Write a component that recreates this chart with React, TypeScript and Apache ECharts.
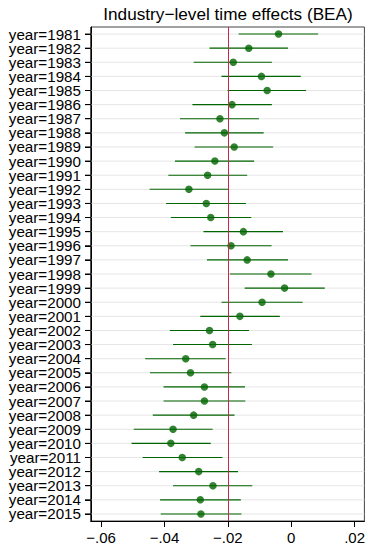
import React, { useEffect, useRef } from "react";
import * as echarts from "echarts";

const years = [
  "1981", "1982", "1983", "1984", "1985", "1986", "1987", "1988", "1989", "1990",
  "1991", "1992", "1993", "1994", "1995", "1996", "1997", "1998", "1999", "2000",
  "2001", "2002", "2003", "2004", "2005", "2006", "2007", "2008", "2009", "2010",
  "2011", "2012", "2013", "2014", "2015",
];
const categories = years.map((y) => "year=" + y);

const coef = [
  -0.004, -0.0134, -0.0183, -0.0094, -0.0076, -0.0187, -0.0225, -0.0211, -0.018, -0.0241,
  -0.0264, -0.0323, -0.0268, -0.0254, -0.0151, -0.019, -0.0139, -0.0064, -0.0021, -0.0092,
  -0.0162, -0.0258, -0.0248, -0.0333, -0.0318, -0.0274, -0.0274, -0.0308, -0.0373, -0.038,
  -0.0344, -0.0292, -0.0247, -0.0287, -0.0285,
];
const ciLow = [
  -0.0166, -0.0258, -0.0308, -0.022, -0.0201, -0.0312, -0.0351, -0.0335, -0.0305, -0.0367,
  -0.0388, -0.0447, -0.0395, -0.038, -0.0277, -0.0318, -0.0266, -0.0194, -0.0147, -0.022,
  -0.0287, -0.0383, -0.0373, -0.0461, -0.0446, -0.0403, -0.0403, -0.0437, -0.0497, -0.0504,
  -0.0469, -0.0417, -0.0373, -0.0414, -0.0412,
];
const ciHigh = [
  0.0085, -0.001, -0.0061, 0.003, 0.0047, -0.0061, -0.0102, -0.0087, -0.0057, -0.0117,
  -0.0139, -0.0196, -0.0143, -0.0126, -0.0026, -0.0062, -0.001, 0.0064, 0.0106, 0.0036,
  -0.0036, -0.0133, -0.0124, -0.0207, -0.0189, -0.0146, -0.0145, -0.0179, -0.0248, -0.0254,
  -0.0217, -0.0168, -0.0123, -0.0159, -0.0157,
];
const refLine = -0.0221;
const xTicks = [-0.06, -0.04, -0.02, 0, 0.02];
const titleText = "Industry\u2212level time effects (BEA)";

const FONT = "'Liberation Sans', Arial, Helvetica, sans-serif";
const GREEN = "#006400";

function fmtTick(v: number): string {
  if (Math.abs(v) < 1e-9) return "0";
  const s = Math.abs(v).toFixed(2).replace(/^0/, "");
  return (v < 0 ? "\u2212" : "") + s;
}

export default function App() {
  const ref = useRef<HTMLDivElement>(null);
  useEffect(() => {
    if (!ref.current) return;
    const chart = echarts.init(ref.current, undefined, { renderer: "svg" });
    const option: any = {
      animation: false,
      backgroundColor: "#ffffff",
      graphic: [
        {
          type: "text",
          x: 228,
          y: 14,
          style: {
            text: titleText,
            font: `17.2px ${FONT}`,
            fill: "#000",
            textAlign: "center",
            textVerticalAlign: "middle",
          },
        },
      ],
      grid: {
        left: 91,
        right: 3,
        top: 27,
        height: 495,
        show: true,
        borderColor: "#444",
        borderWidth: 1,
        backgroundColor: "#fff",
      },
      xAxis: {
        type: "value",
        min: -0.0632,
        max: 0.0231,
        axisLine: { show: true, onZero: false, lineStyle: { color: "#000", width: 1 } },
        axisTick: {
          show: true,
          length: 6,
          lineStyle: { color: "#000" },
          customValues: xTicks,
        },
        axisLabel: {
          customValues: xTicks,
          formatter: (v: number) => fmtTick(v),
          color: "#000",
          fontFamily: FONT,
          fontSize: 15,
          margin: 9,
        },
        splitLine: { show: false },
      },
      yAxis: {
        type: "category",
        data: categories,
        inverse: true,
        boundaryGap: true,
        axisLine: { show: true, onZero: false, lineStyle: { color: "#000", width: 1 } },
        axisTick: { show: true, alignWithLabel: true, inside: false, length: 6, lineStyle: { color: "#000", width: 1 } },
        axisLabel: {
          color: "#000",
          fontFamily: FONT,
          fontSize: 15.2,
          lineHeight: 14,
          margin: 10,
          interval: 0,
        },
        splitLine: { show: false },
      },
      series: [
        {
          type: "custom",
          z: 1,
          silent: true,
          data: categories.map((_, i) => [i]),
          encode: { y: 0 },
          renderItem: (params: any, api: any) => {
            const i = api.value(0);
            const p = api.coord([0, i]);
            const cs = params.coordSys;
            return {
              type: "line",
              shape: { x1: cs.x, y1: p[1], x2: cs.x + cs.width, y2: p[1] },
              style: { stroke: "#e6e6e6", lineWidth: 1 },
            };
          },
        },
        {
          type: "line",
          z: 2,
          data: [],
          markLine: {
            silent: true,
            symbol: "none",
            label: { show: false },
            lineStyle: { color: "#c8284e", width: 1, type: "solid" },
            data: [{ xAxis: refLine }],
          },
        },
        {
          type: "custom",
          z: 3,
          silent: true,
          data: categories.map((_, i) => [ciLow[i], ciHigh[i], i]),
          encode: { x: [0, 1], y: 2 },
          renderItem: (_params: any, api: any) => {
            const a = api.coord([api.value(0), api.value(2)]);
            const b = api.coord([api.value(1), api.value(2)]);
            return {
              type: "line",
              shape: { x1: a[0], y1: a[1], x2: b[0], y2: b[1] },
              style: { stroke: GREEN, lineWidth: 1.1 },
            };
          },
        },
        {
          type: "scatter",
          z: 4,
          symbol: "circle",
          symbolSize: 7.5,
          itemStyle: { color: GREEN },
          data: categories.map((_, i) => [coef[i], i]),
        },
      ],
    };
    chart.setOption(option);
    // left-axis ticks placed from the library's own category scale
    const ticks = categories.map((c) => {
      const p = chart.convertToPixel({ gridIndex: 0 }, [0, c]) as number[];
      return {
        type: "line",
        silent: true,
        z: 10,
        shape: { x1: 85, y1: p[1], x2: 91, y2: p[1] },
        style: { stroke: "#000", lineWidth: 1 },
      };
    });
    const axisLeft = {
      type: "line",
      silent: true,
      z: 10,
      shape: { x1: 91, y1: 27, x2: 91, y2: 522 },
      style: { stroke: "#000", lineWidth: 1 },
    };
    chart.setOption({ graphic: [option.graphic[0], ...ticks, axisLeft] });
    return () => chart.dispose();
  }, []);
  return (
    <div
      ref={ref}
      style={{ position: "fixed", left: 0, top: 0, width: 368, height: 545, background: "#fff" }}
    />
  );
}
